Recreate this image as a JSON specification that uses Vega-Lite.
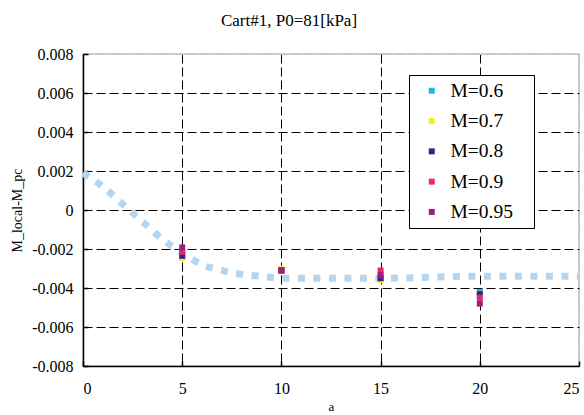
{
  "$schema": "https://vega.github.io/schema/vega-lite/v6.json",
  "width": 496,
  "height": 312,
  "autosize": {"type": "none"},
  "padding": {"left": 83, "top": 54, "right": 5, "bottom": 49},
  "background": "white",
  "title": {"text": "Cart#1, P0=81[kPa]", "font": "Liberation Serif, Times New Roman, serif", "fontSize": 17, "fontWeight": "normal", "color": "black", "offset": 16, "dx": -42, "anchor": "middle"},
  "config": {
    "font": "Liberation Serif, Times New Roman, serif",
    "view": {"stroke": "#c0c0c0", "strokeWidth": 1.5},
    "axis": {
      "labelFont": "Liberation Serif, Times New Roman, serif", "labelFontSize": 16, "labelColor": "black",
      "titleFont": "Liberation Serif, Times New Roman, serif", "titleFontSize": 14, "titleFontWeight": "normal", "titleColor": "black",
      "domainColor": "black", "domainWidth": 1.5, "ticks": true, "tickSize": -5, "tickColor": "black", "tickWidth": 1.5,
      "grid": true, "gridDash": [9, 4], "gridWidth": 1, "gridOpacity": 1
    }
  },
  "datasets": {
    "curve": [
      {"a": 0, "v": 0.0019}, {"a": 1, "v": 0.0012}, {"a": 2, "v": 0.0003}, {"a": 3, "v": -0.0006},
      {"a": 4, "v": -0.0015}, {"a": 5, "v": -0.0022}, {"a": 6, "v": -0.0028}, {"a": 7, "v": -0.0031},
      {"a": 8, "v": -0.0033}, {"a": 9, "v": -0.0034}, {"a": 10, "v": -0.0035}, {"a": 15, "v": -0.0035},
      {"a": 20, "v": -0.0034}, {"a": 25, "v": -0.0034}
    ],
    "pts": [
      {"a": 5, "v": -0.0024, "series": "M=0.6"},
      {"a": 10, "v": -0.0031, "series": "M=0.6"},
      {"a": 15, "v": -0.0035, "series": "M=0.6"},
      {"a": 20, "v": -0.0042, "series": "M=0.6"},
      {"a": 5, "v": -0.00247, "series": "M=0.7"},
      {"a": 10, "v": -0.0030, "series": "M=0.7"},
      {"a": 15, "v": -0.0036, "series": "M=0.7"},
      {"a": 20, "v": -0.0044, "series": "M=0.7"},
      {"a": 5, "v": -0.00235, "series": "M=0.8"},
      {"a": 10, "v": -0.0031, "series": "M=0.8"},
      {"a": 15, "v": -0.0035, "series": "M=0.8"},
      {"a": 20, "v": -0.00432, "series": "M=0.8"},
      {"a": 5, "v": -0.00214, "series": "M=0.9"},
      {"a": 10, "v": -0.0031, "series": "M=0.9"},
      {"a": 15, "v": -0.0031, "series": "M=0.9"},
      {"a": 20, "v": -0.0045, "series": "M=0.9"},
      {"a": 5, "v": -0.00192, "series": "M=0.95"},
      {"a": 10, "v": -0.00309, "series": "M=0.95"},
      {"a": 15, "v": -0.00335, "series": "M=0.95"},
      {"a": 20, "v": -0.0048, "series": "M=0.95"}
    ]
  },
  "encoding": {
    "x": {
      "field": "a", "type": "quantitative",
      "scale": {"domain": [0, 25], "nice": false},
      "axis": {
        "values": [0, 5, 10, 15, 20, 25], "title": "a", "titleFontSize": 13, "labelPadding": 19, "titlePadding": 4,
        "gridColor": {"condition": {"test": "datum.value == 25 || datum.value == 0", "value": "#c0c0c0"}, "value": "black"}
      }
    },
    "y": {
      "field": "v", "type": "quantitative",
      "scale": {"domain": [-0.008, 0.008], "nice": false, "zero": false},
      "axis": {
        "values": [-0.008, -0.006, -0.004, -0.002, 0, 0.002, 0.004, 0.006, 0.008],
        "labelExpr": "datum.value == 0 ? '0' : (datum.value < 0 ? '-' : '') + format(abs(datum.value), '.3f')",
        "title": "M_local-M_pc", "labelPadding": 15, "titlePadding": 7,
        "gridColor": {"condition": {"test": "datum.value > 0.0079 || datum.value < -0.0079", "value": "#c0c0c0"}, "value": "black"}
      }
    }
  },
  "layer": [
    {
      "data": {"name": "curve"},
      "mark": {"type": "line", "color": "#b4d5f0", "strokeWidth": 7, "strokeDash": [7, 8.5], "interpolate": "monotone", "strokeCap": "butt"}
    },
    {
      "data": {"name": "pts"},
      "mark": {"type": "square", "size": 36, "opacity": 1, "filled": true},
      "encoding": {
        "color": {
          "field": "series", "type": "nominal",
          "scale": {"domain": ["M=0.6", "M=0.7", "M=0.8", "M=0.9", "M=0.95"], "range": ["#1eb4e8", "#f5ee30", "#3b1f85", "#e4287c", "#9e1e7e"]},
          "legend": {
            "orient": "none", "legendX": 326, "legendY": 21, "title": null,
            "symbolType": "square", "symbolSize": 36, "symbolStrokeWidth": 0,
            "labelFont": "Liberation Serif, Times New Roman, serif", "labelFontSize": 19.5, "labelColor": "black",
            "strokeColor": "black", "fillColor": "white", "padding": 6, "rowPadding": 9.3,
            "symbolOffset": 7, "labelOffset": 9,
            "labelExpr": "datum.label + '\u2800'"
          }
        }
      }
    }
  ]
}
